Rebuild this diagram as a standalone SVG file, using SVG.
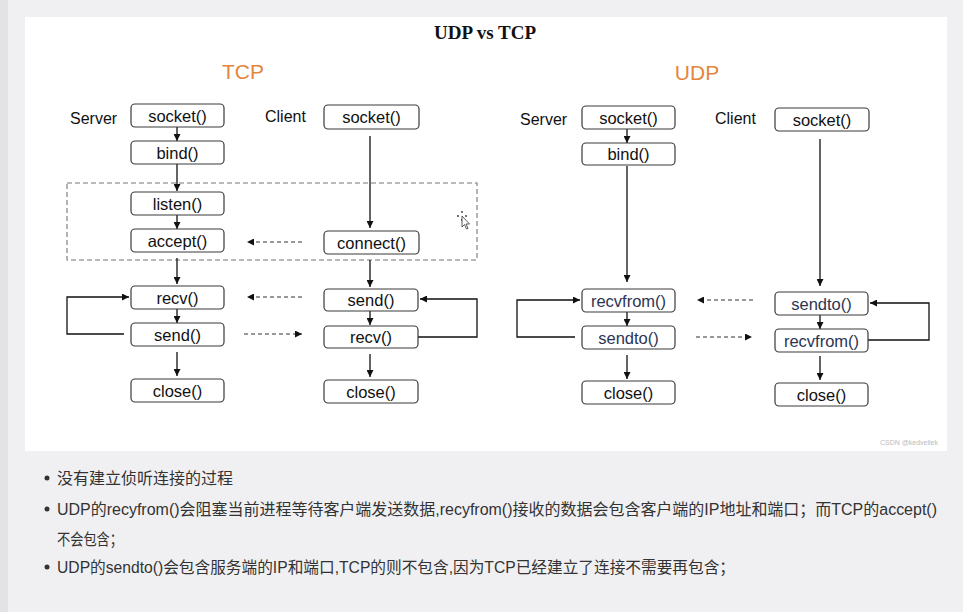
<svg xmlns="http://www.w3.org/2000/svg" width="963" height="612" viewBox="0 0 963 612">
<style>
.bx{fill:#fff;stroke:#3a3a3a;stroke-width:1.2}
.t{font-family:"Liberation Sans",Arial,sans-serif;font-size:16.5px;fill:#111;text-anchor:middle}
.tb{fill:#2b3553}
.lb{font-family:"Liberation Sans",Arial,sans-serif;font-size:16px;fill:#111}
.hd{font-family:"Liberation Sans",Arial,sans-serif;font-size:21px;fill:#e5853b;text-anchor:middle}
.ln{stroke:#111;stroke-width:1.3;fill:none}
.dl{stroke:#333;stroke-width:1.1;fill:none;stroke-dasharray:4,3}
.bt{font-family:"Liberation Sans","Noto Sans CJK SC",sans-serif;font-size:16px;fill:#333}
</style>
<defs>
<marker id="a" viewBox="0 0 8 8" refX="8" refY="4" markerWidth="7" markerHeight="7" markerUnits="userSpaceOnUse" orient="auto"><path d="M0,0 L8,4 L0,8 Z" fill="#111"/></marker>
</defs>
<rect x="0" y="0" width="963" height="612" fill="#f0f0f2"/>
<rect x="0" y="0" width="8" height="612" fill="#e3e3e6"/>
<rect x="25" y="17" width="922" height="434" fill="#fff"/>
<text x="485" y="39" font-family="Liberation Serif,serif" font-weight="bold" font-size="19" text-anchor="middle" fill="#111">UDP vs TCP</text>
<text class="hd" x="243" y="79">TCP</text>
<text class="hd" x="697" y="80">UDP</text>
<text class="lb" x="70" y="124">Server</text>
<text class="lb" x="265" y="122">Client</text>
<text class="lb" x="520" y="125">Server</text>
<text class="lb" x="715" y="124">Client</text>
<rect x="67" y="183" width="410" height="77" fill="none" stroke="#777" stroke-width="1.1" stroke-dasharray="5,3"/>
<g id="connectors">
<line class="ln" x1="177" y1="127" x2="177" y2="141" marker-end="url(#a)"/>
<line class="ln" x1="177" y1="164" x2="177" y2="191" marker-end="url(#a)"/>
<line class="ln" x1="177" y1="215" x2="177" y2="229" marker-end="url(#a)"/>
<line class="ln" x1="177" y1="258" x2="177" y2="284" marker-end="url(#a)"/>
<line class="ln" x1="177" y1="309" x2="177" y2="323" marker-end="url(#a)"/>
<line class="ln" x1="177" y1="352" x2="177" y2="376" marker-end="url(#a)"/>
<polyline class="ln" points="124,334 67,334 67,297 129,297" marker-end="url(#a)" stroke-width="1.1"/>
<line class="ln" x1="370" y1="136" x2="370" y2="228" marker-end="url(#a)"/>
<line class="ln" x1="370" y1="260" x2="370" y2="287" marker-end="url(#a)"/>
<line class="ln" x1="370" y1="311" x2="370" y2="325" marker-end="url(#a)"/>
<line class="ln" x1="370" y1="354" x2="370" y2="377" marker-end="url(#a)"/>
<polyline class="ln" points="418,337 477,337 477,299 420,299" marker-end="url(#a)" stroke-width="1.1"/>
<line class="dl" x1="302" y1="242" x2="247" y2="242" marker-end="url(#a)"/>
<line class="dl" x1="302" y1="297" x2="247" y2="297" marker-end="url(#a)"/>
<line class="dl" x1="244" y1="334" x2="302" y2="334" marker-end="url(#a)"/>
<line class="ln" x1="627" y1="129" x2="627" y2="143" marker-end="url(#a)"/>
<line class="ln" x1="627" y1="166" x2="627" y2="282" marker-end="url(#a)"/>
<line class="ln" x1="627" y1="312" x2="627" y2="326" marker-end="url(#a)"/>
<line class="ln" x1="627" y1="355" x2="627" y2="379" marker-end="url(#a)"/>
<polyline class="ln" points="575,337 517,337 517,300 580,300" marker-end="url(#a)" stroke-width="1.1"/>
<line class="ln" x1="820" y1="139" x2="820" y2="286" marker-end="url(#a)"/>
<line class="ln" x1="820" y1="315" x2="820" y2="329" marker-end="url(#a)"/>
<line class="ln" x1="820" y1="356" x2="820" y2="380" marker-end="url(#a)"/>
<polyline class="ln" points="868,340 929,340 929,303 870,303" marker-end="url(#a)" stroke-width="1.1"/>
<line class="dl" x1="753" y1="300" x2="697" y2="300" marker-end="url(#a)"/>
<line class="dl" x1="696" y1="337" x2="752" y2="337" marker-end="url(#a)"/>
</g>
<g id="tcp-s-socket"><rect class="bx" x="131" y="104" width="93" height="23" rx="4"/><text class="t" x="177.5" y="121.5">socket()</text></g>
<g id="tcp-s-bind"><rect class="bx" x="131" y="141" width="93" height="23" rx="4"/><text class="t" x="177.5" y="158.5">bind()</text></g>
<g id="tcp-s-listen"><rect class="bx" x="131" y="192" width="93" height="23" rx="4"/><text class="t" x="177.5" y="209.5">listen()</text></g>
<g id="tcp-s-accept"><rect class="bx" x="131" y="229" width="93" height="23" rx="4"/><text class="t" x="177.5" y="246.5">accept()</text></g>
<g id="tcp-s-recv"><rect class="bx" x="131" y="286" width="93" height="23" rx="4"/><text class="t" x="177.5" y="303.5">recv()</text></g>
<g id="tcp-s-send"><rect class="bx" x="131" y="323" width="93" height="23" rx="4"/><text class="t" x="177.5" y="340.5">send()</text></g>
<g id="tcp-s-close"><rect class="bx" x="131" y="379" width="93" height="23" rx="4"/><text class="t" x="177.5" y="396.5">close()</text></g>
<g id="tcp-c-socket"><rect class="bx" x="324" y="105" width="95" height="24" rx="4"/><text class="t" x="371.5" y="123">socket()</text></g>
<g id="tcp-c-connect"><rect class="bx" x="324" y="231" width="95" height="23" rx="4"/><text class="t" x="371.5" y="248.5">connect()</text></g>
<g id="tcp-c-send"><rect class="bx" x="324" y="289" width="94" height="22" rx="4"/><text class="t" x="371" y="306">send()</text></g>
<g id="tcp-c-recv"><rect class="bx" x="324" y="326" width="94" height="22" rx="4"/><text class="t" x="371" y="343">recv()</text></g>
<g id="tcp-c-close"><rect class="bx" x="324" y="380" width="94" height="23" rx="4"/><text class="t" x="371" y="397.5">close()</text></g>
<g id="udp-s-socket"><rect class="bx" x="582" y="106" width="93" height="23" rx="4"/><text class="t" x="628.5" y="123.5">socket()</text></g>
<g id="udp-s-bind"><rect class="bx" x="582" y="143" width="93" height="22" rx="4"/><text class="t" x="628.5" y="160">bind()</text></g>
<g id="udp-s-recvfrom"><rect class="bx" x="582" y="289" width="93" height="23" rx="4"/><text class="t tb" x="628.5" y="306.5">recvfrom()</text></g>
<g id="udp-s-sendto"><rect class="bx" x="582" y="326" width="93" height="23" rx="4"/><text class="t tb" x="628.5" y="343.5">sendto()</text></g>
<g id="udp-s-close"><rect class="bx" x="582" y="381" width="93" height="23" rx="4"/><text class="t" x="628.5" y="398.5">close()</text></g>
<g id="udp-c-socket"><rect class="bx" x="775" y="108" width="94" height="23" rx="4"/><text class="t" x="822" y="125.5">socket()</text></g>
<g id="udp-c-sendto"><rect class="bx" x="775" y="292" width="93" height="23" rx="4"/><text class="t tb" x="821.5" y="309.5">sendto()</text></g>
<g id="udp-c-recvfrom"><rect class="bx" x="775" y="329" width="93" height="23" rx="4"/><text class="t tb" x="821.5" y="346.5">recvfrom()</text></g>
<g id="udp-c-close"><rect class="bx" x="775" y="383" width="93" height="23" rx="4"/><text class="t" x="821.5" y="400.5">close()</text></g>
<g id="cursor" fill="#333" stroke="none">
<circle cx="462" cy="212" r="0.9"/><circle cx="458" cy="216" r="0.9"/><circle cx="466" cy="216" r="0.9"/><circle cx="462" cy="220" r="0.9"/>
<path d="M462,216 L462,227 L464.5,224.5 L466.5,229 L468,228.3 L466,224 L469.5,224 Z" fill="#fff" stroke="#333" stroke-width="0.8"/>
</g>
<text x="938" y="445" font-family="Liberation Sans,sans-serif" font-size="7" fill="#bbb" text-anchor="end">CSDN @kedvellek</text>
<circle cx="47" cy="478" r="2.5" fill="#333"/>
<circle cx="47" cy="509" r="2.5" fill="#333"/>
<circle cx="47" cy="567" r="2.5" fill="#333"/>
<text class="bt" x="57" y="484" textLength="176" lengthAdjust="spacingAndGlyphs">没有建立侦听连接的过程</text>
<text class="bt" x="57" y="515" textLength="880" lengthAdjust="spacingAndGlyphs">UDP的recyfrom()会阻塞当前进程等待客户端发送数据,recyfrom()接收的数据会包含客户端的IP地址和端口；而TCP的accept()</text>
<text class="bt" x="57" y="545" textLength="66" lengthAdjust="spacingAndGlyphs">不会包含；</text>
<text class="bt" x="57" y="573" textLength="678" lengthAdjust="spacingAndGlyphs">UDP的sendto()会包含服务端的IP和端口,TCP的则不包含,因为TCP已经建立了连接不需要再包含；</text>
</svg>
